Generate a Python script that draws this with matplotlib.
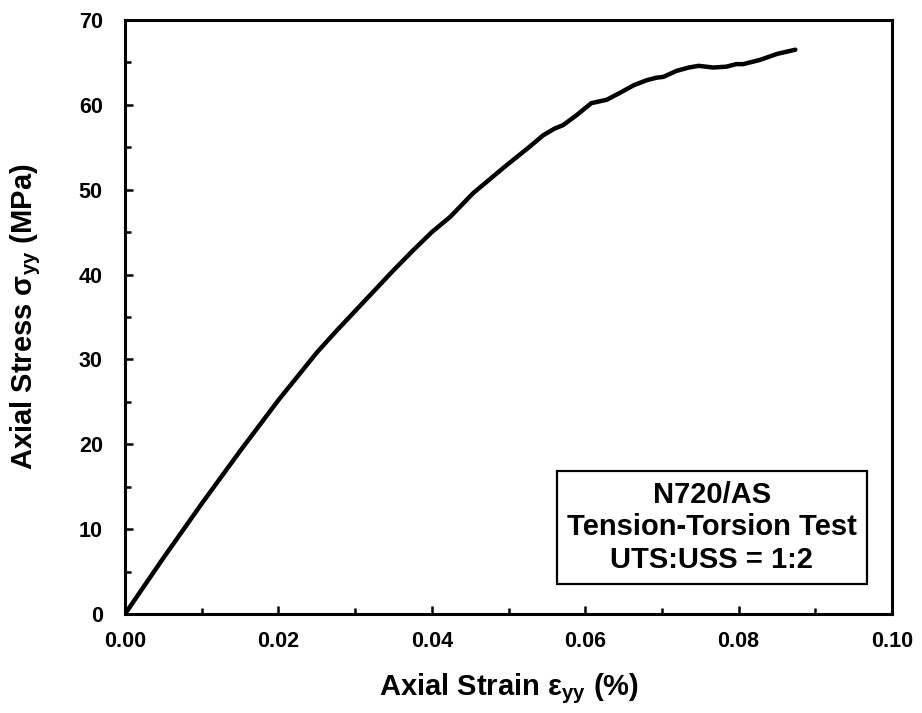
import matplotlib
matplotlib.use("Agg")
import matplotlib.pyplot as plt
from matplotlib.ticker import MultipleLocator, FormatStrFormatter

plt.rcParams['font.family'] = ['Liberation Sans', 'DejaVu Sans']
plt.rcParams['font.weight'] = 'bold'
plt.rcParams['mathtext.fontset'] = 'custom'
plt.rcParams['mathtext.rm'] = 'Liberation Sans:bold'
plt.rcParams['mathtext.bf'] = 'Liberation Sans:bold'
plt.rcParams['mathtext.it'] = 'Liberation Sans:bold'

strain = [0.0, 0.0025, 0.005, 0.0075, 0.010, 0.0125, 0.015, 0.0175, 0.020,
          0.0225, 0.025, 0.0275, 0.030, 0.0325, 0.035, 0.0375, 0.040,
          0.0424, 0.0454, 0.0495, 0.0528, 0.0545, 0.0560, 0.0571, 0.0589,
          0.0608, 0.0628, 0.0645, 0.0663, 0.0680, 0.0693, 0.0702, 0.0719,
          0.0735, 0.0748, 0.0767, 0.0784, 0.0797, 0.0806, 0.0828, 0.0850,
          0.0874]
stress = [0.0, 3.3, 6.6, 9.8, 13.0, 16.1, 19.2, 22.2, 25.2,
          28.0, 30.8, 33.3, 35.7, 38.1, 40.5, 42.8, 45.0,
          46.8, 49.6, 52.7, 55.1, 56.4, 57.2, 57.6, 58.8,
          60.2, 60.6, 61.4, 62.3, 62.9, 63.2, 63.3, 64.0,
          64.4, 64.6, 64.4, 64.5, 64.8, 64.8, 65.3, 66.0,
          66.5]

fig = plt.figure(figsize=(9.22, 7.13), dpi=100)
ax = fig.add_axes([125/922, 1-614/713, (892-125)/922, (614-20)/713])

ax.plot(strain, stress, color='black', lw=3.2, solid_capstyle='round',
        solid_joinstyle='round')

ax.set_xlim(0, 0.10)
ax.set_ylim(0, 70)
ax.xaxis.set_major_locator(MultipleLocator(0.02))
ax.xaxis.set_minor_locator(MultipleLocator(0.01))
ax.yaxis.set_major_locator(MultipleLocator(10))
ax.yaxis.set_minor_locator(MultipleLocator(5))
ax.xaxis.set_major_formatter(FormatStrFormatter('%.2f'))
ax.yaxis.set_major_formatter(FormatStrFormatter('%d'))

for s in ax.spines.values():
    s.set_linewidth(2.2)
ax.tick_params(which='major', direction='in', length=5.5, width=1.8,
               labelsize=15.5, pad=12)
ax.tick_params(which='minor', direction='in', length=4, width=1.8)
ax.tick_params(axis='y', which='major', pad=16)
for lbl in ax.get_xticklabels() + ax.get_yticklabels():
    lbl.set_fontweight('bold')
    lbl.set_fontfamily('Liberation Sans')

ax.set_xlabel('Axial Strain ε$_{\\mathbf{yy}}$ (%)', fontsize=21, fontweight='bold', labelpad=14)
ax.set_ylabel('Axial Stress σ$_{\\mathbf{yy}}$ (MPa)', fontsize=21, fontweight='bold', labelpad=26)

ax.text(0.0765, 10.2, 'N720/AS\nTension-Torsion Test\nUTS:USS = 1:2',
        ha='center', va='center', fontsize=21, fontweight='bold',
        family='Liberation Sans', linespacing=1.2,
        bbox=dict(boxstyle='square,pad=0.35', fc='white', ec='black', lw=1.6))

fig.savefig('out.png', dpi=100)
